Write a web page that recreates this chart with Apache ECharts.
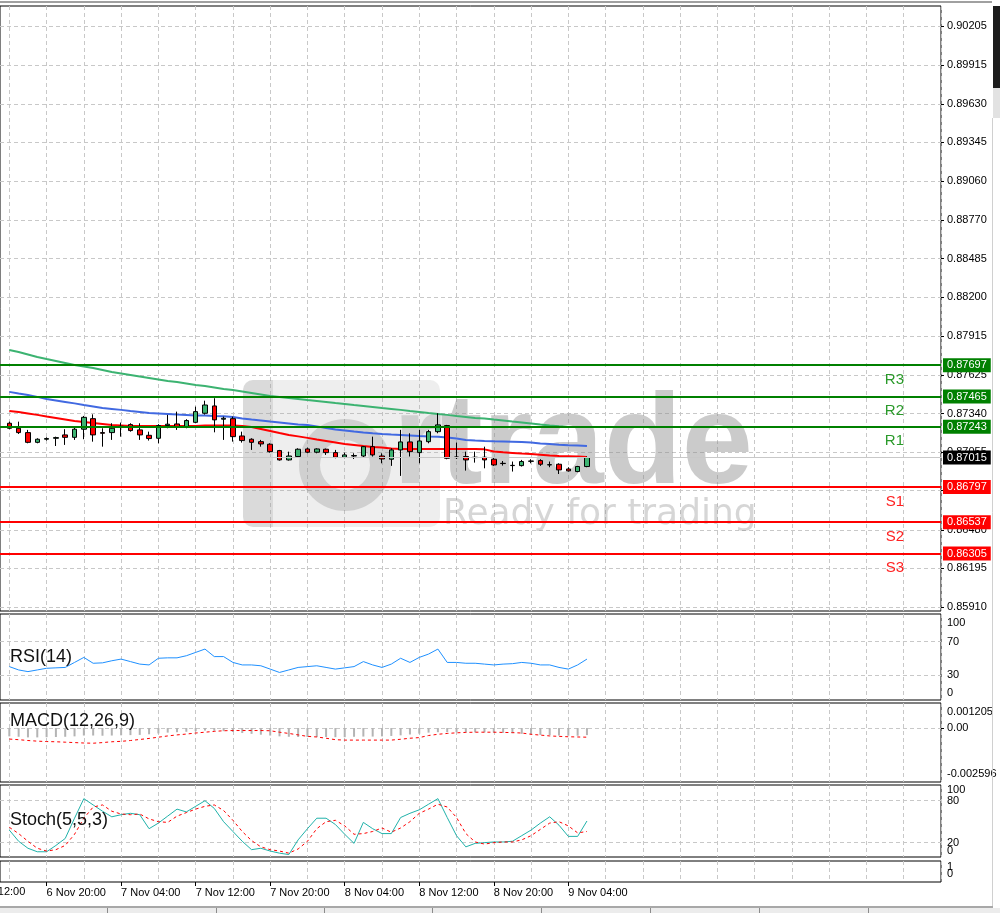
<!DOCTYPE html>
<html><head><meta charset="utf-8">
<script src="https://cdn.jsdelivr.net/npm/echarts@6.0.0/dist/echarts.min.js"></script>
<style>html,body{margin:0;padding:0;background:#fff;}#c{width:1000px;height:913px;}</style>
</head><body><div id="c"></div>
<script>
const FONT = '"Liberation Sans", Arial, sans-serif';

// ---- data (H1 candles, index 1..63 = 6 Nov 16:00 .. 9 Nov 06:00) ----
const openP  = [0.87268,0.87231,0.87199,0.87127,0.87150,0.87157,0.87182,0.87164,0.87224,0.87302,
0.87199,0.87199,0.87241,0.87258,0.87219,0.87179,0.87157,0.87251,0.87263,0.87243,
0.87275,0.87342,0.87396,0.87298,0.87302,0.87174,0.87150,0.87132,0.87113,0.87066,
0.86997,0.87022,0.87078,0.87054,0.87076,0.87051,0.87017,0.87026,0.87026,0.87095,
0.87026,0.87002,0.87071,0.87130,0.87051,0.87132,0.87206,0.87251,0.87019,0.87022,
0.87014,0.87017,0.87002,0.86972,0.86955,0.86955,0.86987,0.86992,0.86960,0.86965,
0.86930,0.86911,0.86948];
const closeP = [0.87231,0.87199,0.87127,0.87150,0.87155,0.87162,0.87164,0.87224,0.87312,0.87182,
0.87194,0.87231,0.87246,0.87214,0.87182,0.87155,0.87251,0.87261,0.87243,0.87288,
0.87354,0.87403,0.87293,0.87305,0.87169,0.87140,0.87127,0.87115,0.87058,0.86997,
0.87026,0.87076,0.87054,0.87078,0.87051,0.87017,0.87034,0.87029,0.87095,0.87034,
0.87004,0.87071,0.87130,0.87058,0.87137,0.87206,0.87256,0.87009,0.87014,0.86997,
0.87017,0.86997,0.86960,0.86970,0.86957,0.86985,0.86989,0.86965,0.86962,0.86923,
0.86916,0.86948,0.87015];
const lowP   = [0.87224,0.87189,0.87120,0.87120,0.87140,0.87100,0.87108,0.87145,0.87150,0.87132,
0.87095,0.87145,0.87169,0.87206,0.87145,0.87140,0.87120,0.87231,0.87219,0.87231,
0.87268,0.87332,0.87201,0.87145,0.87132,0.87125,0.87071,0.87095,0.87051,0.86992,
0.86992,0.87017,0.87046,0.87046,0.87034,0.87009,0.87009,0.87004,0.87017,0.87022,
0.86972,0.86953,0.86879,0.87022,0.86972,0.87120,0.87194,0.87002,0.87004,0.86918,
0.86977,0.86935,0.86953,0.86955,0.86911,0.86948,0.86972,0.86953,0.86943,0.86893,
0.86911,0.86906,0.86943];
const highP  = [0.87280,0.87280,0.87219,0.87157,0.87164,0.87169,0.87224,0.87243,0.87322,0.87334,
0.87231,0.87268,0.87273,0.87268,0.87268,0.87206,0.87261,0.87330,0.87354,0.87298,
0.87391,0.87435,0.87453,0.87317,0.87317,0.87206,0.87157,0.87145,0.87120,0.87071,
0.87058,0.87083,0.87088,0.87083,0.87081,0.87071,0.87051,0.87046,0.87100,0.87169,
0.87046,0.87083,0.87219,0.87194,0.87219,0.87219,0.87342,0.87256,0.87125,0.87058,
0.87058,0.87095,0.87017,0.86989,0.86985,0.86997,0.87002,0.87002,0.86985,0.86972,
0.86943,0.86953,0.87022];

const maRed = [0.87359,0.87352,0.87341,0.87330,0.87318,0.87307,0.87296,0.87285,0.87278,0.87270,
0.87263,0.87256,0.87252,0.87248,0.87248,0.87248,0.87248,0.87248,0.87248,0.87248,
0.87248,0.87252,0.87252,0.87252,0.87252,0.87248,0.87241,0.87226,0.87211,0.87196,
0.87182,0.87171,0.87160,0.87148,0.87137,0.87126,0.87115,0.87108,0.87100,0.87093,
0.87089,0.87082,0.87078,0.87078,0.87078,0.87078,0.87078,0.87078,0.87078,0.87078,
0.87078,0.87075,0.87060,0.87054,0.87049,0.87044,0.87040,0.87035,0.87030,0.87026,
0.87024,0.87022,0.87019];
const maBlue = [0.87500,0.87488,0.87477,0.87463,0.87448,0.87437,0.87426,0.87415,0.87403,0.87392,
0.87381,0.87374,0.87367,0.87359,0.87352,0.87344,0.87341,0.87337,0.87333,0.87330,
0.87326,0.87326,0.87322,0.87319,0.87315,0.87304,0.87296,0.87289,0.87281,0.87274,
0.87267,0.87259,0.87256,0.87245,0.87233,0.87222,0.87215,0.87207,0.87200,0.87194,
0.87189,0.87185,0.87182,0.87178,0.87174,0.87171,0.87169,0.87163,0.87156,0.87145,
0.87140,0.87137,0.87135,0.87134,0.87132,0.87130,0.87125,0.87119,0.87115,0.87110,
0.87106,0.87103,0.87100];
const maGreen = [0.87810,0.87795,0.87777,0.87758,0.87743,0.87729,0.87714,0.87699,0.87688,0.87677,
0.87662,0.87647,0.87636,0.87625,0.87614,0.87603,0.87592,0.87581,0.87573,0.87562,
0.87551,0.87544,0.87533,0.87522,0.87514,0.87503,0.87492,0.87481,0.87470,0.87463,
0.87455,0.87448,0.87440,0.87433,0.87426,0.87418,0.87411,0.87403,0.87396,0.87389,
0.87381,0.87374,0.87367,0.87359,0.87352,0.87344,0.87337,0.87330,0.87322,0.87315,
0.87307,0.87304,0.87296,0.87289,0.87281,0.87274,0.87267,0.87259,0.87252,0.87246,
0.87241];

const rsi = [40,36,34,36,38,38.5,39,45,51,44, 44.5,47,49,46,43,42,50,50.5,50.5,53,
57,61,52,52,45,42,42,41,37,33, 36,39,40,41,39,37,38.5,40,46,42,
39,43,50,45,51,55,61,45,45,44, 44,43,42,43,43.5,45,44,42,42,39, 37,42,49];
const macdHist = [-0.00040,-0.00042,-0.00045,-0.00045,-0.00044,-0.00043,-0.00042,-0.00040,
-0.00036,-0.00036,-0.00037,-0.00036,-0.00035,-0.00034,-0.00033,
-0.00030,-0.00026,-0.00022,-0.00020,-0.00018,-0.00015,-0.00012,-0.00013,-0.00015,-0.00019,-0.00024,-0.00028,
-0.00032,-0.00036,-0.00040,-0.00042,-0.00043,-0.00043,-0.00043,-0.00043,-0.00044,-0.00044,
-0.00042,-0.00041,-0.00041,-0.00040,-0.00038,-0.00035,-0.00031,-0.00027,-0.00022,-0.00020,
-0.00020,-0.00020,-0.00020,-0.00021,-0.00021,-0.00022,-0.00023,-0.00025,-0.00028,
-0.00031,-0.00033,-0.00034,-0.00036,-0.00037,-0.00037,-0.00034];
const macdSignal = [-0.00053,-0.00056,-0.00060,-0.00063,-0.00065,-0.00066,-0.00068,-0.00070,-0.00072,-0.00073,
-0.00070,-0.00066,-0.00064,-0.00060,-0.00055,-0.00050,-0.00044,-0.00038,-0.00033,-0.00029,
-0.00024,-0.00020,-0.00016,-0.00013,-0.00012,-0.00012,-0.00012,-0.00012,-0.00013,-0.00020,
-0.00026,-0.00033,-0.00040,-0.00043,-0.00049,-0.00056,-0.00058,-0.00058,-0.00058,-0.00058,
-0.00058,-0.00058,-0.00054,-0.00049,-0.00046,-0.00036,-0.00030,-0.00026,-0.00023,-0.00021,
-0.00020,-0.00020,-0.00020,-0.00021,-0.00022,-0.00024,-0.00030,-0.00034,-0.00038,-0.00040,
-0.00042,-0.00043,-0.00044];
const stochMain = [38,22,12,7,7,16,26,55,83,74, 65,57,60,62,60,40,48,58,68,64,
72,80,69,50,36,22,10,12,8,5, 3,24,40,55,55,46,32,19,49,40,
33,33,56,62,67,75,83,56,30,14, 19,20,21,21,22,30,38,48,57,45, 29,29,51];
const stochSignal = [42,33,22,12,8,10,16,32,55,71, 74,65,61,60,61,54,50,49,58,63,
68,72,74,66,52,36,23,14,10,8, 5,11,22,40,50,52,44,32,33,36,
41,35,41,50,62,68,75,71,56,33, 21,18,20,21,21,24,30,39,48,50, 44,34,36];

const priceTicks = [0.90205,0.89915,0.89630,0.89345,0.89060,0.88770,0.88485,0.88200,
0.87915,0.87625,0.87340,0.87055,0.86770,0.86480,0.86195,0.85910];
const levelNames  = ['R3','R2','R1','S1','S2','S3'];
const levelValues = [0.87697,0.87465,0.87243,0.86797,0.86537,0.86305];
const currentPrice = 0.87015;
const rsiTicks = [0,30,70,100], rsiLevels = [30,70];
const macdTicks = [-0.002596,0,0.001205];
const stochLevels = [20,80], stochEnds = [0,100];
const miscTop = [1], miscBottom = [0];
const monthName = 'Nov';

// categories: index 0 = 6 Nov 15:00 (empty slot), index 1 = first candle (6 Nov 16:00)
const startMs = Date.UTC(2023,10,6,15);
const categories = [];
for (let i = 0; i < 102; i++) {
  const d = new Date(startMs + i*3600000);
  categories.push(d.getUTCDate() + ' ' + monthName + ' ' + String(d.getUTCHours()).padStart(2,'0') + ':00');
}
const pad = a => ['-'].concat(a);
const candleData = [['-','-','-','-']].concat(openP.map((o,i)=>[o, closeP[i], lowP[i], highP[i]]));

const gridLineFn = i => i >= 1 && (i-1) % 4 === 0;
const labelFn = i => i >= 1 && i <= 63 && (i-5) % 8 === 0;
const dash = {color:'#c8c8c8', width:1, type:[4,3]};

const grids = [
  {top:6, height:605},
  {top:614, height:86},
  {top:703, height:79},
  {top:785, height:72},
  {top:861, height:21}
].map(g => Object.assign({left:-5.875, right:59, show:true, borderColor:'#000', borderWidth:1, backgroundColor:'transparent'}, g));

const xAxes = grids.map((g, gi) => ({
  type:'category', gridIndex:gi, data:categories, boundaryGap:false,
  axisLine:{show:false},
  axisTick:{show: gi===4, interval:labelFn, length:4, lineStyle:{color:'#000'}},
  axisLabel:{show: gi===4, interval:labelFn, align:'left', margin:5, fontSize:11, fontFamily:FONT, color:'#000'},
  splitLine:{show:true, interval:gridLineFn, lineStyle:dash}
}));

const lbl = {fontSize:11, fontFamily:FONT, color:'#000'};
function edgeRich(pt, pb){ return {t:Object.assign({padding:[pt,0,0,0]}, lbl), b:Object.assign({padding:[0,0,pb,0]}, lbl), m:Object.assign({}, lbl)}; }

const yAxes = [
  {gridIndex:0, min:0.85880, max:0.90353,
   axisTick:{show:true, length:3, customValues:priceTicks, lineStyle:{color:'#000'}},
   axisLabel:Object.assign({customValues:priceTicks, margin:6, formatter:v=>v.toFixed(5)}, lbl),
   splitLine:{show:true, lineStyle:dash}},
  {gridIndex:1, min:0, max:103,
   axisTick:{show:false, customValues:rsiLevels},
   axisLabel:Object.assign({customValues:rsiTicks, margin:6, rich:edgeRich(12,14),
     formatter:v=> v===100 ? '{t|100}' : v===0 ? '{b|0}' : '{m|'+v+'}'}, lbl),
   splitLine:{show:true, lineStyle:dash}},
  {gridIndex:2, min:-0.002596, max:0.001205,
   axisTick:{show:true, length:3, customValues:[0], lineStyle:{color:'#000'}},
   axisLabel:Object.assign({customValues:macdTicks, margin:6, rich:edgeRich(17,17),
     formatter:v=> v>0.001 ? '{t|'+macdTicks[2].toFixed(6)+'}' : v< -0.002 ? '{b|'+macdTicks[0].toFixed(6)+'}' : '{m|0.00}'}, lbl),
   splitLine:{show:true, lineStyle:dash}},
  {gridIndex:3, min:-0.5, max:102.5,
   axisTick:{show:false, customValues:stochLevels},
   axisLabel:Object.assign({customValues:stochLevels, margin:6}, lbl),
   splitLine:{show:true, lineStyle:dash}},
  {gridIndex:4, min:0, max:1,
   axisTick:{show:false, customValues:miscTop},
   axisLabel:Object.assign({customValues:miscTop, margin:6, rich:edgeRich(11,17), formatter:v=>'{t|'+v+'}'}, lbl),
   splitLine:{show:false}},
  {gridIndex:3, min:-0.5, max:102.5,
   axisTick:{show:false, customValues:stochEnds},
   axisLabel:Object.assign({customValues:stochEnds, margin:6, rich:edgeRich(7,12),
     formatter:v=> v===100 ? '{t|100}' : '{b|0}'}, lbl),
   splitLine:{show:false}},
  {gridIndex:4, min:0, max:1,
   axisTick:{show:false, customValues:miscBottom},
   axisLabel:Object.assign({customValues:miscBottom, margin:6, rich:edgeRich(11,17), formatter:v=>'{b|'+v+'}'}, lbl),
   splitLine:{show:false}}
].map(a => {
  const o = Object.assign({type:'value', position:'right', scale:true, axisLine:{show:false}}, a);
  o.axisLabel = Object.assign({showMinLabel:true, showMaxLabel:true, hideOverlap:false}, o.axisLabel);
  return o;
});

const levelColor = n => n[0]==='R' ? '#008000' : '#ff0000';
const boxLabel = (txt, bg) => ({show:true, position:'end', distance:2, formatter:txt,
  backgroundColor:bg, color:'#fff', padding:[2,4,1,4], fontSize:11, fontFamily:FONT});

const series = [
  {type:'candlestick', xAxisIndex:0, yAxisIndex:0, data:candleData, barWidth:5, z:3,
   itemStyle:{color:'#3cb371', color0:'#ff0000', borderColor:'#000', borderColor0:'#000', borderColorDoji:'#000', borderWidth:1}},
  {type:'line', xAxisIndex:0, yAxisIndex:0, data:pad(maGreen), showSymbol:false, lineStyle:{color:'#3cb371', width:2}, z:2,
   markLine:{silent:true, symbol:'none', animation:false, precision:6,
     data: levelValues.map((v,i)=>({yAxis:v, lineStyle:{color:levelColor(levelNames[i]), width:2, type:'solid'},
              label:boxLabel(v.toFixed(5), levelColor(levelNames[i]))}))
           .concat([{yAxis:currentPrice, lineStyle:{color:'#c8c8c8', width:1, type:'solid'}, label:boxLabel(currentPrice.toFixed(5), '#000')}])}},
  {type:'line', xAxisIndex:0, yAxisIndex:0, data:pad(maBlue), showSymbol:false, lineStyle:{color:'#4169e1', width:2}, z:2,
   markLine:{silent:true, symbol:'none', animation:false, precision:6,
     lineStyle:{color:'rgba(0,0,0,0)', width:0},
     data: levelValues.map((v,i)=>({yAxis:v, lineStyle:{color:'rgba(0,0,0,0)', width:0},
       label:{show:true, position:'insideEndBottom', distance:[37,7], formatter:levelNames[i],
              color: levelNames[i][0]==='R' ? '#2a9a2a' : '#ff2020', fontSize:15, fontFamily:FONT}}))}},
  {type:'line', xAxisIndex:0, yAxisIndex:0, data:pad(maRed), showSymbol:false, lineStyle:{color:'#ff0000', width:2}, z:2},
  {type:'line', xAxisIndex:1, yAxisIndex:1, data:pad(rsi), showSymbol:false, lineStyle:{color:'#1e90ff', width:1}},
  {type:'bar', xAxisIndex:2, yAxisIndex:2, data:pad(macdHist), barWidth:2, itemStyle:{color:'#b4b4b4'}},
  {type:'line', xAxisIndex:2, yAxisIndex:2, data:pad(macdSignal), showSymbol:false, lineStyle:{color:'#ff0000', width:1, type:[3,3]}},
  {type:'line', xAxisIndex:3, yAxisIndex:3, data:pad(stochMain), showSymbol:false, lineStyle:{color:'#20b2aa', width:1}},
  {type:'line', xAxisIndex:3, yAxisIndex:3, data:pad(stochSignal), showSymbol:false, lineStyle:{color:'#ff0000', width:1, type:[3,3]}}
];

const wm = 'rgba(140,140,140,0.45)';
const titleStyle = {fill:'#111', font:'18px ' + FONT, textVerticalAlign:'middle'};
const graphic = [
  // watermark
  {type:'rect', z:1, silent:true, shape:{x:243,y:380,width:197,height:147,r:10}, style:{fill:'rgba(170,170,170,0.2)'}},
  {type:'rect', z:1, silent:true, shape:{x:243,y:380,width:30,height:147,r:[10,0,0,10]}, style:{fill:'rgba(150,150,150,0.22)'}},
  {type:'ring', z:1, silent:true, shape:{cx:345,cy:465,r:46,r0:25}, style:{fill:'rgba(140,140,140,0.3)'}},
  {type:'text', z:1, silent:true, style:{x:393,y:448,text:'r',fill:'rgba(140,140,140,0.3)',font:'bold 128px "Liberation Sans", Arial',textVerticalAlign:'middle'}},
  {type:'text', z:1, silent:true, style:{x:440,y:448,text:'trade',fill:wm,font:'bold 128px "Liberation Sans", Arial',textVerticalAlign:'middle'}},
  {type:'text', z:1, silent:true, style:{x:443,y:515,text:'Ready for trading',fill:'rgba(140,140,140,0.36)',font:'36px "DejaVu Sans"',textVerticalAlign:'middle'}},
  // indicator titles
  {type:'text', z:100, style:Object.assign({x:10,y:657,text:'RSI(14)'}, titleStyle)},
  {type:'text', z:100, style:Object.assign({x:10,y:721,text:'MACD(12,26,9)'}, titleStyle)},
  {type:'text', z:100, style:Object.assign({x:10,y:820,text:'Stoch(5,5,3)'}, titleStyle)},
  // clipped time label at the far left
  {type:'text', z:100, style:{x:-34,y:892,text:'6 Nov 12:00',fill:'#000',font:'11px ' + FONT,textVerticalAlign:'middle'}},
  // window frame
  {type:'line', z:100, shape:{x1:0,y1:2,x2:992,y2:2}, style:{stroke:'#a0a0a0', lineWidth:2}},
  {type:'rect', z:100, shape:{x:993,y:6,width:7,height:82}, style:{fill:'#1c1c1c'}},
  {type:'rect', z:100, shape:{x:993,y:88,width:7,height:30}, style:{fill:'#e2e2e2'}},
  {type:'line', z:100, shape:{x1:992.5,y1:118,x2:992.5,y2:907}, style:{stroke:'#d0d0d0', lineWidth:1}},
  {type:'line', z:100, shape:{x1:0,y1:907,x2:993,y2:907}, style:{stroke:'#a8a8a8', lineWidth:2}},
  {type:'rect', z:100, shape:{x:0,y:908,width:1000,height:5}, style:{fill:'#ececec'}}
].concat([107,216,324,432,541,650,759,868].map(x => ({type:'line', z:100, shape:{x1:x+0.5,y1:908,x2:x+0.5,y2:913}, style:{stroke:'#8c8c8c', lineWidth:1}})));

const chart = echarts.init(document.getElementById('c'), null, {renderer:'canvas'});
chart.setOption({
  animation:false, backgroundColor:'#fff',
  grid:grids, xAxis:xAxes, yAxis:yAxes, series:series, graphic:graphic
});
</script></body></html>
